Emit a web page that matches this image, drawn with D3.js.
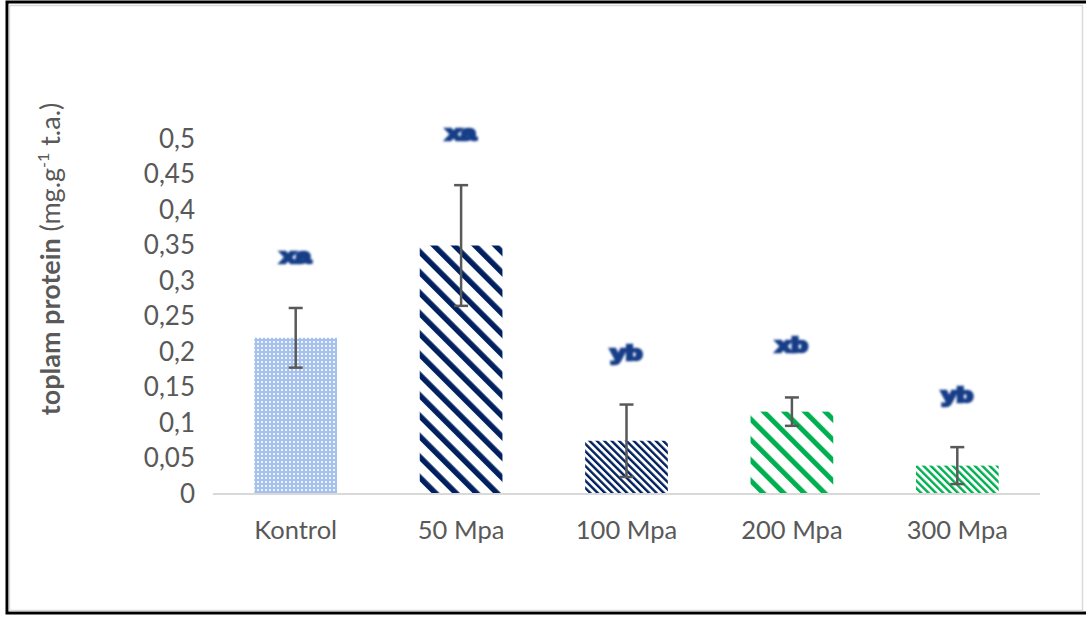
<!DOCTYPE html>
<html>
<head>
<meta charset="utf-8">
<script src="https://cdn.jsdelivr.net/npm/d3@7"></script>
<style>
  html, body { margin: 0; padding: 0; background: #fff; }
  svg { display: block; }
</style>
</head>
<body>
<svg id="chart" width="1086" height="617"></svg>
<script>
// Total protein by treatment pressure
const categories = ["Kontrol", "50 Mpa", "100 Mpa", "200 Mpa", "300 Mpa"];
const means      = [0.22, 0.35, 0.075, 0.116, 0.04];
const errors     = [0.042, 0.085, 0.051, 0.02, 0.026];
const letters    = ["xa", "xa", "yb", "xb", "yb"];
const fills      = ["dots", "wideNavy", "narrowNavy", "wideGreen", "narrowGreen"];
const tickValues = [0, 0.05, 0.1, 0.15, 0.2, 0.25, 0.3, 0.35, 0.4, 0.45, 0.5];
const tickLabels = ["0", "0,05", "0,1", "0,15", "0,2", "0,25", "0,3", "0,35", "0,4", "0,45", "0,5"];

const svg = d3.select("#chart");
const FONT = "Lato, 'Open Sans', sans-serif";
const GREY = "#595959";

// Outer frame
svg.append("rect").attr("x", 7).attr("y", 2).attr("width", 1090).attr("height", 611)
  .attr("fill", "#fff").attr("stroke", "#000").attr("stroke-width", 3);
svg.append("rect").attr("x", 9.5).attr("y", 5.5).attr("width", 1073).attr("height", 605)
  .attr("fill", "none").attr("stroke", "#d9d9d9").attr("stroke-width", 1.5);

// Fill patterns
const defs = svg.append("defs");

const dots = defs.append("pattern").attr("id", "dots")
  .attr("patternUnits", "userSpaceOnUse").attr("width", 4).attr("height", 4);
dots.append("rect").attr("width", 4).attr("height", 4).attr("fill", "#a6c2ec");
dots.append("rect").attr("x", 1).attr("y", 1).attr("width", 2).attr("height", 2).attr("fill", "#eef3fb");

function stripes(id, color, period, thickness) {
  const p = defs.append("pattern").attr("id", id)
    .attr("patternUnits", "userSpaceOnUse")
    .attr("width", period).attr("height", period)
    .attr("patternTransform", "rotate(-45)");
  p.append("rect").attr("width", period).attr("height", period).attr("fill", "#fff");
  p.append("rect").attr("width", thickness).attr("height", period).attr("fill", color);
}
stripes("wideNavy", "#002060", 14.5, 5.5);
stripes("narrowNavy", "#002060", 5.2, 2.4);
stripes("wideGreen", "#00b050", 14.5, 5);
stripes("narrowGreen", "#00b050", 5.2, 2.4);

const soft = defs.append("filter").attr("id", "soft")
  .attr("x", "-20%").attr("y", "-20%").attr("width", "140%").attr("height", "140%");
soft.append("feGaussianBlur").attr("stdDeviation", 0.8);

// Scales
const x = d3.scaleBand().domain(categories).range([213, 1040])
  .paddingInner(0.5).paddingOuter(0.25);
const y = d3.scaleLinear().domain([0, 0.5]).range([494, 139]);

// Y axis (labels only)
const yAxis = d3.axisLeft(y).tickValues(tickValues)
  .tickFormat((d, i) => tickLabels[i]).tickSize(0).tickPadding(18);
const gy = svg.append("g").attr("transform", "translate(213,0)").call(yAxis);
gy.select(".domain").remove();
gy.selectAll("text").attr("font-family", FONT).attr("font-size", 26).attr("fill", GREY);

// Bars
const data = categories.map((c, i) => ({ c, m: means[i], e: errors[i], l: letters[i], f: fills[i] }));
svg.append("g").selectAll("rect").data(data).join("rect")
  .attr("x", d => x(d.c)).attr("width", x.bandwidth())
  .attr("y", d => y(d.m)).attr("height", d => y(0) - y(d.m))
  .attr("fill", d => `url(#${d.f})`);

// Baseline
svg.append("line").attr("x1", 213).attr("x2", 1040).attr("y1", y(0)).attr("y2", y(0))
  .attr("stroke", "#d9d9d9").attr("stroke-width", 2);

// X axis labels
const xAxis = d3.axisBottom(x).tickSize(0).tickPadding(27);
const gx = svg.append("g").attr("transform", `translate(0,${y(0)})`).call(xAxis);
gx.select(".domain").remove();
gx.selectAll("text").attr("font-family", FONT).attr("font-size", 25.5).attr("fill", GREY);

// Error bars
const eb = svg.append("g").attr("stroke", GREY).attr("stroke-width", 2.5).attr("fill", "none");
data.forEach(d => {
  const cx = x(d.c) + x.bandwidth() / 2;
  const y1 = y(d.m + d.e), y2 = y(d.m - d.e);
  eb.append("line").attr("x1", cx).attr("x2", cx).attr("y1", y1).attr("y2", y2);
  eb.append("line").attr("x1", cx - 7).attr("x2", cx + 7).attr("y1", y1).attr("y2", y1);
  eb.append("line").attr("x1", cx - 7).attr("x2", cx + 7).attr("y1", y2).attr("y2", y2);
});

// Significance letters
svg.append("g").selectAll("text").data(data).join("text")
  .attr("transform", d => `translate(${x(d.c) + x.bandwidth() / 2},${y(d.m + d.e) - 45}) scale(1.3,1)`)
  .attr("text-anchor", "middle")
  .attr("font-family", "'Liberation Sans', Arial, sans-serif")
  .attr("font-weight", "bold").attr("font-size", 21)
  .attr("fill", "#143c88").attr("stroke", "#143c88").attr("stroke-width", 2.6)
  .attr("filter", "url(#soft)")
  .text(d => d.l);

// Y axis title
const title = svg.append("text")
  .attr("transform", "translate(60,259) rotate(-90)")
  .attr("text-anchor", "middle")
  .attr("font-family", FONT).attr("font-size", 27).attr("fill", GREY);
title.append("tspan").attr("font-weight", "bold").text("toplam protein ");
title.append("tspan").text(" (mg.g");
title.append("tspan").attr("font-size", 16).attr("dy", -11).text("-1");
title.append("tspan").attr("dy", 11).text(" t.a.)");
</script>
</body>
</html>
